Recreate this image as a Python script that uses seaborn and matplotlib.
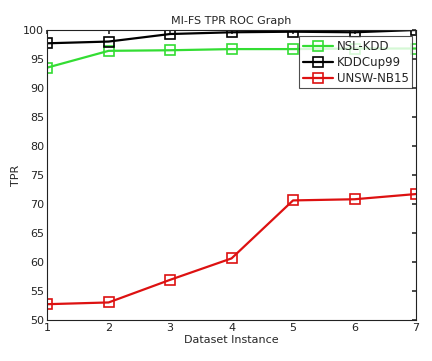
import matplotlib
matplotlib.use("Agg")
import matplotlib.pyplot as plt
import seaborn as sns
import pandas as pd

instances = [1, 2, 3, 4, 5, 6, 7]
nsl_kdd = [93.5, 96.4, 96.5, 96.7, 96.7, 96.8, 96.8]
kddcup99 = [97.7, 98.0, 99.3, 99.6, 99.7, 99.6, 100.0]
unsw_nb15 = [52.7, 53.0, 56.9, 60.6, 70.6, 70.8, 71.7]
series_names = ["NSL-KDD", "KDDCup99", "UNSW-NB15"]
colors = ["#33dd33", "#000000", "#dd1111"]

df = pd.concat([
    pd.DataFrame({"x": instances, "TPR": vals, "Dataset": name})
    for name, vals in zip(series_names, [nsl_kdd, kddcup99, unsw_nb15])
])

sns.set_theme(style="white")
plt.rcParams["font.family"] = ["DejaVu Sans"]
plt.rcParams["xtick.direction"] = "in"
plt.rcParams["ytick.direction"] = "in"

fig = plt.figure(figsize=(4.32, 3.61), dpi=100)
ax = fig.add_axes([0.109, 0.114, 0.854, 0.803])
sns.lineplot(data=df, x="x", y="TPR", hue="Dataset", palette=colors,
             marker="s", markersize=6.5, markerfacecolor="none",
             markeredgewidth=1.2, linewidth=1.6, ax=ax, legend=False)
for name, c in zip(series_names, colors):
    ax.plot([], [], color=c, marker="s", markerfacecolor="none",
            markeredgewidth=1.2, linewidth=1.6, markersize=6.5, label=name)
for line, c in zip(ax.get_lines()[:3], colors):
    line.set_markeredgecolor(c)

ax.set_xlim(1, 7)
ax.set_ylim(50, 100)
ax.set_xticks(instances)
ax.set_yticks(range(50, 101, 5))
ax.tick_params(labelsize=8, length=3, top=True, right=True, colors="#333333",
               labelcolor="#222222", pad=2)
for s in ax.spines.values():
    s.set_color("#222222")
    s.set_linewidth(0.8)
ax.set_xlabel("Dataset Instance", fontsize=8, labelpad=2)
ax.set_ylabel("TPR", fontsize=8, labelpad=2)
ax.set_title("MI-FS TPR ROC Graph", fontsize=8, pad=4)
leg = ax.legend(loc="upper right", bbox_to_anchor=(0.99, 0.978), fontsize=8.5,
                frameon=True, fancybox=False, edgecolor="#222222",
                borderpad=0.3, handlelength=2.6, labelspacing=0.25,
                handletextpad=0.3, borderaxespad=0)
leg.get_frame().set_linewidth(0.8)
fig.savefig("out.png", dpi=100)
